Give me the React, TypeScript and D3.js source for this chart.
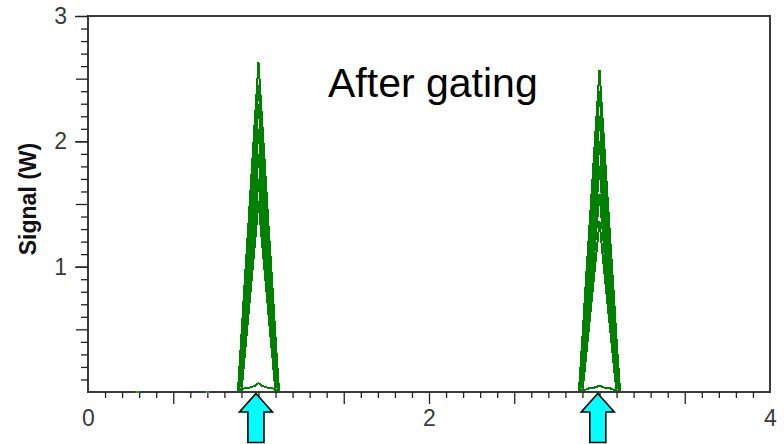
import React, { useRef, useEffect } from "react";
import * as d3 from "d3";

// time axis (ns) and signal axis (W)
const xTickLabels = [0, 2, 4];
const yTickLabels = [1, 2, 3];

// sample offsets around each gated pulse
const pulseOffsets = [-0.12, -0.1, -0.08, -0.06, -0.04, -0.02, 0, 0.02, 0.04, 0.06, 0.08, 0.1, 0.12];
const pulseCentres = [1.0, 3.0];

// overlaid traces of the first pulse
const firstPulseTraces = [
  [0.02, 0.45, 0.9, 1.32, 1.76, 2.2, 2.63, 2.19, 1.75, 1.3, 0.88, 0.43, 0.02],
  [0, 0.38, 0.8, 1.21, 1.62, 2.04, 2.45, 2.02, 1.6, 1.19, 0.78, 0.36, 0],
  [0, 0.3, 0.7, 1.1, 1.5, 1.9, 2.3, 1.88, 1.48, 1.08, 0.69, 0.3, 0],
  [0, 0.2, 0.57, 0.95, 1.33, 1.72, 2.1, 1.7, 1.31, 0.93, 0.55, 0.18, 0],
  [0, 0.09, 0.45, 0.8, 1.17, 1.54, 1.9, 1.52, 1.15, 0.8, 0.44, 0.08, 0],
  [0, 0.03, 0.37, 0.7, 1.03, 1.37, 1.7, 1.36, 1.02, 0.69, 0.36, 0.02, 0],
  [0, 0, 0.3, 0.6, 0.9, 1.2, 1.52, 1.2, 0.9, 0.6, 0.3, 0, 0],
  [0, 0.02, 0.03, 0.03, 0.04, 0.05, 0.07, 0.05, 0.04, 0.03, 0.03, 0.02, 0],
];

// overlaid traces of the second pulse
const secondPulseTraces = [
  [0.02, 0.44, 0.88, 1.3, 1.72, 2.15, 2.57, 2.14, 1.71, 1.28, 0.86, 0.42, 0.02],
  [0, 0.36, 0.77, 1.18, 1.58, 1.99, 2.4, 1.98, 1.57, 1.16, 0.75, 0.35, 0],
  [0, 0.28, 0.66, 1.05, 1.43, 1.82, 2.2, 1.8, 1.41, 1.03, 0.65, 0.27, 0],
  [0, 0.17, 0.53, 0.9, 1.26, 1.63, 2.0, 1.62, 1.25, 0.88, 0.52, 0.16, 0],
  [0, 0.07, 0.42, 0.76, 1.1, 1.45, 1.8, 1.44, 1.09, 0.75, 0.41, 0.06, 0],
  [0, 0.02, 0.33, 0.64, 0.95, 1.27, 1.58, 1.26, 0.94, 0.63, 0.32, 0.01, 0],
  [0, 0, 0.27, 0.54, 0.81, 1.08, 1.36, 1.07, 0.8, 0.53, 0.26, 0, 0],
  [0, 0.01, 0.02, 0.03, 0.03, 0.04, 0.05, 0.04, 0.03, 0.03, 0.02, 0.01, 0],
];

// little residual blips on the baseline
const baselineBlips = [0.29, 0.7];

// gate markers
const arrowTimes = [0.985, 2.99];

const width = 784;
const height = 444;
const margin = { top: 16, right: 14, bottom: 52, left: 88 };

const App = () => {
  const axisRef = useRef<SVGGElement>(null);

  const x = d3.scaleLinear().domain([0, 4]).range([margin.left, width - margin.right]);
  const y = d3.scaleLinear().domain([0, 3]).range([height - margin.bottom, margin.top]);

  const line = d3
    .line<[number, number]>()
    .x((d) => x(d[0]))
    .y((d) => y(d[1]));

  const traces: [number, number][][] = [];
  [firstPulseTraces, secondPulseTraces].forEach((set, i) => {
    set.forEach((vals) => {
      traces.push(vals.map((v, j) => [pulseCentres[i] + pulseOffsets[j], v]));
    });
  });

  useEffect(() => {
    const g = d3.select(axisRef.current);
    g.selectAll("*").remove();
    const x0 = x(0);
    const y0 = y(0);

    const minorX = d3.range(1, 40).map((d) => d / 10).filter((d) => d * 2 !== Math.round(d * 2));
    const halfX = d3.range(1, 8).map((d) => d / 2);
    const minorY = d3.range(1, 30).map((d) => d / 10).filter((d) => d * 2 !== Math.round(d * 2));
    const halfY = d3.range(1, 7).map((d) => d / 2);

    const styleAxis = (sel) => {
      sel.select(".domain").remove();
      sel.selectAll("line").attr("stroke", "#222").attr("stroke-width", 1.3);
      sel
        .selectAll("text")
        .attr("fill", "#3a3a3a")
        .style("font-family", "'Liberation Sans Narrow', 'Arial Narrow', 'Liberation Sans', Arial, sans-serif")
        .style("font-size", "23px");
    };

    g.append("g")
      .attr("transform", `translate(0,${y0})`)
      .call(d3.axisBottom(x).tickValues(minorX).tickSize(6).tickFormat(() => ""))
      .call(styleAxis);
    g.append("g")
      .attr("transform", `translate(0,${y0})`)
      .call(d3.axisBottom(x).tickValues(halfX).tickSize(12).tickFormat(() => ""))
      .call(styleAxis);
    g.append("g")
      .attr("transform", `translate(0,${y0})`)
      .call(d3.axisBottom(x).tickValues(xTickLabels).tickSize(0).tickPadding(18).tickFormat(d3.format("d")))
      .call(styleAxis);

    g.append("g")
      .attr("transform", `translate(${x0},0)`)
      .call(d3.axisLeft(y).tickValues(minorY).tickSize(7).tickFormat(() => ""))
      .call(styleAxis);
    g.append("g")
      .attr("transform", `translate(${x0},0)`)
      .call(d3.axisLeft(y).tickValues(halfY).tickSize(12).tickFormat(() => ""))
      .call(styleAxis);
    g.append("g")
      .attr("transform", `translate(${x0},0)`)
      .call(d3.axisLeft(y).tickValues(yTickLabels).tickSize(13).tickPadding(8).tickFormat(d3.format("d")))
      .call(styleAxis);
  }, []);

  const x0 = x(0);
  const x1 = x(4);
  const y0 = y(0);
  const y1 = y(3);

  return (
    <svg
      width={width}
      height={height}
      style={{ position: "absolute", left: 0, top: 0, background: "#fff" }}
    >
      <g>
        {traces.map((t, i) => (
          <path
            key={i}
            d={line(t) || ""}
            fill="none"
            stroke="#008000"
            strokeWidth={2}
            shapeRendering="crispEdges"
          />
        ))}
      </g>
      {/* plot frame */}
      <rect
        x={x0}
        y={y1}
        width={x1 - x0}
        height={y0 - y1}
        fill="none"
        stroke="#3a3a3a"
        strokeWidth={2}
      />
      <g ref={axisRef} />
      {baselineBlips.map((b, i) => (
        <line
          key={i}
          x1={x(b - 0.012)}
          x2={x(b + 0.012)}
          y1={y0}
          y2={y0}
          stroke="#2f9a2f"
          strokeWidth={2}
        />
      ))}
      {arrowTimes.map((t, i) => {
        const cx = x(t);
        const tip = y0 + 1.5;
        const neck = y0 + 20;
        const pts = [
          [cx, tip],
          [cx + 16.5, neck],
          [cx + 8, neck],
          [cx + 8, height - 1.5],
          [cx - 8, height - 1.5],
          [cx - 8, neck],
          [cx - 16.5, neck],
        ];
        return (
          <polygon
            key={i}
            points={pts.map((p) => p.join(",")).join(" ")}
            fill="#00ffff"
            stroke="#000"
            strokeWidth={1.6}
            strokeLinejoin="miter"
          />
        );
      })}
      <text
        transform={`translate(36,199) rotate(-90)`}
        textAnchor="middle"
        style={{ fontFamily: "'Liberation Sans', Arial, sans-serif", fontSize: "23px", fontWeight: "bold" }}
        fill="#111"
      >
        Signal (W)
      </text>
      <text
        x={328}
        y={97}
        style={{ fontFamily: "'Liberation Sans', Arial, sans-serif", fontSize: "41px" }}
        fill="#000"
      >
        After gating
      </text>
    </svg>
  );
};

export default App;
